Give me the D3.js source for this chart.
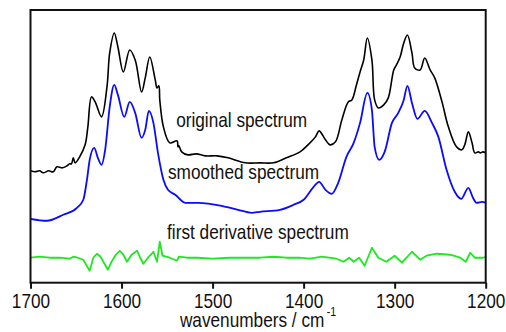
<!DOCTYPE html>
<html>
  <head>
    <meta charset="utf-8">
    <title>Spectrum smoothing and first derivative</title>
    <style>
      body { margin: 0; background: #fff; }
      svg text {
        font-family: "Liberation Sans", Arial, sans-serif;
        font-size: 21px;
        fill: #111;
      }
    </style>
  </head>
  <body>
    <div id="chart"></div>
    <script src="https://cdn.jsdelivr.net/npm/d3@7"></script>
    <script>
      // wavenumber (cm-1) and signal (arbitrary units, traces stacked)
      var originalWn = [1700, 1695, 1690, 1686, 1680, 1675, 1671, 1665, 1660, 1657, 1655, 1653, 1651, 1646, 1640, 1637, 1633, 1629, 1622, 1616, 1613, 1608, 1604, 1598, 1591, 1585, 1578, 1574, 1569, 1563, 1561, 1559, 1558, 1554, 1547, 1539, 1538, 1537, 1534, 1527, 1518, 1508, 1495, 1483, 1464, 1448, 1433, 1419, 1404, 1393, 1387, 1383, 1376, 1371, 1365, 1358, 1351, 1347, 1342, 1338, 1334, 1330, 1325, 1322, 1318, 1312, 1307, 1301, 1298, 1294, 1290, 1286, 1281, 1278, 1272, 1267, 1261, 1256, 1248, 1241, 1232, 1226, 1223, 1219, 1215, 1212, 1208, 1206, 1203, 1200];
      var originalVal = [112, 111, 112, 110, 112, 111, 116, 115, 117, 119, 119, 125, 120, 126, 138, 156, 186, 181, 166, 196, 230, 250, 236, 211, 233, 223, 191, 205, 226, 203, 195, 197, 183, 156, 140, 142, 136, 137, 131, 128, 129, 127, 127, 125, 120, 120, 120, 125, 131, 140, 146, 152, 143, 138, 141, 163, 181, 183, 198, 211, 223, 245, 223, 183, 175, 178, 185, 213, 218, 226, 240, 248, 230, 215, 213, 225, 213, 205, 181, 156, 136, 133, 138, 151, 140, 130, 131, 130, 131, 130];

      var smoothWn = [1700, 1682, 1664, 1649, 1642, 1638, 1635, 1630, 1626, 1622, 1618, 1613, 1608, 1604, 1597, 1591, 1585, 1578, 1574, 1570, 1565, 1560, 1554, 1549, 1541, 1530, 1516, 1490, 1472, 1457, 1448, 1426, 1411, 1400, 1389, 1383, 1376, 1369, 1362, 1353, 1345, 1338, 1330, 1325, 1322, 1317, 1311, 1303, 1296, 1290, 1286, 1281, 1275, 1267, 1259, 1252, 1243, 1234, 1227, 1219, 1214, 1210, 1204, 1200];
      var smoothVal = [64, 62, 68, 75, 83, 103, 123, 135, 125, 118, 133, 176, 198, 188, 166, 181, 170, 145, 153, 172, 160, 130, 103, 93, 88, 80, 80, 77, 73, 70, 71, 73, 78, 83, 96, 101, 93, 89, 100, 126, 140, 160, 190, 173, 136, 123, 131, 160, 170, 183, 197, 180, 164, 172, 160, 146, 113, 91, 84, 95, 85, 80, 81, 80];

      var derivWn = [1700, 1690, 1679, 1668, 1657, 1653, 1648, 1642, 1635, 1631, 1627, 1623, 1620, 1615, 1611, 1607, 1602, 1598, 1594, 1589, 1583, 1580, 1576, 1571, 1565, 1561, 1558, 1555, 1547, 1539, 1537, 1528, 1517, 1500, 1481, 1465, 1448, 1433, 1419, 1405, 1393, 1380, 1364, 1356, 1350, 1345, 1339, 1333, 1325, 1318, 1309, 1300, 1292, 1281, 1272, 1265, 1254, 1239, 1228, 1222, 1217, 1212, 1203, 1200];
      var derivVal = [25, 26, 25, 25, 24, 26, 25, 23, 12, 25, 29, 26, 21, 13, 21, 27, 32, 28, 21, 28, 32, 26, 19, 25, 31, 21, 41, 27, 25, 22, 26, 25, 25, 24, 25, 25, 25, 26, 25, 25, 24, 26, 24, 21, 25, 21, 25, 17, 35, 25, 21, 27, 20, 31, 23, 27, 29, 28, 25, 21, 30, 25, 25, 26];

      var xTicks = [1700, 1600, 1500, 1400, 1300, 1200];
      var traceLabels = ['original spectrum', 'smoothed spectrum', 'first derivative spectrum'];

      var width = 506, height = 332;
      var margin = {top: 10, right: 20.3, bottom: 49.3, left: 30.5};
      var narrow = 0.82; // the reference uses a condensed face

      var svg = d3.select('#chart').append('svg')
        .attr('width', width)
        .attr('height', height);

      var x = d3.scaleLinear().domain([1700, 1200])
        .range([margin.left, width - margin.right]);
      var y = d3.scaleLinear().domain([0, 273])
        .range([height - margin.bottom, margin.top]);

      function zip(wn, val) {
        return wn.map(function(w, i) { return {w: w, v: val[i]}; });
      }

      var line = d3.line()
        .x(function(d) { return x(d.w); })
        .y(function(d) { return y(d.v); });

      var traces = [
        {data: zip(originalWn, originalVal), color: '#000', width: 1.6, curve: d3.curveCatmullRom.alpha(0.5)},
        {data: zip(smoothWn, smoothVal), color: '#0a0aff', width: 1.8, curve: d3.curveMonotoneX},
        {data: zip(derivWn, derivVal), color: '#1ee81e', width: 1.8, curve: d3.curveLinear}
      ];

      traces.forEach(function(t) {
        svg.append('path')
          .datum(t.data)
          .attr('fill', 'none')
          .attr('stroke', t.color)
          .attr('stroke-width', t.width)
          .attr('stroke-linejoin', 'round')
          .attr('d', line.curve(t.curve));
      });

      // labels next to each trace
      var labelAt = [[1540, 156], [1549, 104], [1550, 43.5]];
      svg.selectAll('.trace-label')
        .data(traceLabels)
        .enter().append('text')
        .attr('class', 'trace-label')
        .attr('transform', function(d, i) {
          return 'translate(' + x(labelAt[i][0]) + ',' + y(labelAt[i][1]) + ') scale(' + narrow + ',1)';
        })
        .text(function(d) { return d; });

      // frame
      svg.append('rect')
        .attr('x', margin.left)
        .attr('y', margin.top)
        .attr('width', width - margin.left - margin.right)
        .attr('height', height - margin.top - margin.bottom)
        .attr('fill', 'none')
        .attr('stroke', '#111')
        .attr('stroke-width', 2);

      var axis = svg.append('g')
        .attr('transform', 'translate(0,' + (height - margin.bottom) + ')')
        .call(d3.axisBottom(x).tickValues(xTicks).tickFormat(d3.format('d'))
          .tickSize(6).tickPadding(4.6).tickSizeOuter(0));
      axis.select('.domain').remove();
      axis.selectAll('line').attr('stroke', '#111').attr('stroke-width', 2);
      axis.selectAll('text')
        .attr('font-family', null).attr('font-size', null)
        .attr('transform', 'scale(' + narrow + ',1)');

      var xlabel = svg.append('text')
        .attr('transform', 'translate(' + ((margin.left + width - margin.right) / 2) + ',327) scale(' + narrow + ',1)')
        .attr('text-anchor', 'middle');
      xlabel.append('tspan').text('wavenumbers / cm');
      xlabel.append('tspan')
        .attr('dy', -11)
        .attr('dx', 3)
        .style('font-size', '13px')
        .text('-1');
    </script>
  </body>
</html>
